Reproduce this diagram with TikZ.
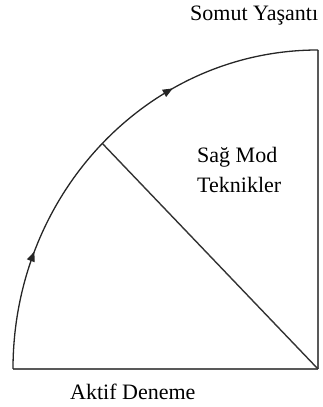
\documentclass[tikz,border=0pt]{standalone}
\usepackage{fontspec}
\setmainfont{Liberation Serif}
\usetikzlibrary{decorations.markings,arrows.meta,calc}
\begin{document}
\begin{tikzpicture}[x=1pt,y=1pt,
  edge/.style={line width=1.4pt,draw=black!80},
  rim/.style={line width=1.3pt,draw=black!85,
    postaction={decorate},
    decoration={markings,
      mark=at position 0.245 with {\arrow{Triangle[length=10pt,width=8pt]}},
      mark=at position 0.69 with {\arrow{Triangle[length=10pt,width=8pt]}}}},
  lbl/.style={font=\fontsize{22}{26}\selectfont,inner sep=0pt}]
\useasboundingbox (0,0) rectangle (323,407);
\coordinate (C) at (318,38);
\coordinate (L) at (13,38);
\coordinate (T) at (318,357);
\coordinate (M) at ($(C)+(135:305 and 319)$);
\draw[edge,draw=black!65] (L) -- (C);
\draw[edge,draw=black!65] (C) -- (T);
\draw[rim] (L) arc[start angle=180,end angle=90,x radius=305,y radius=319];
\draw[edge] (C) -- (M);
\node[lbl,anchor=base west] (somut) at (190,386) {Somut Yaşantı};
\node[lbl,anchor=base west] (sag) at (197,244) {Sağ Mod};
\node[lbl,anchor=base west] (tek) at (197,214) {Teknikler};
\node[lbl,anchor=base west] (aktif) at (70,8) {Aktif Deneme};
\end{tikzpicture}
\end{document}
